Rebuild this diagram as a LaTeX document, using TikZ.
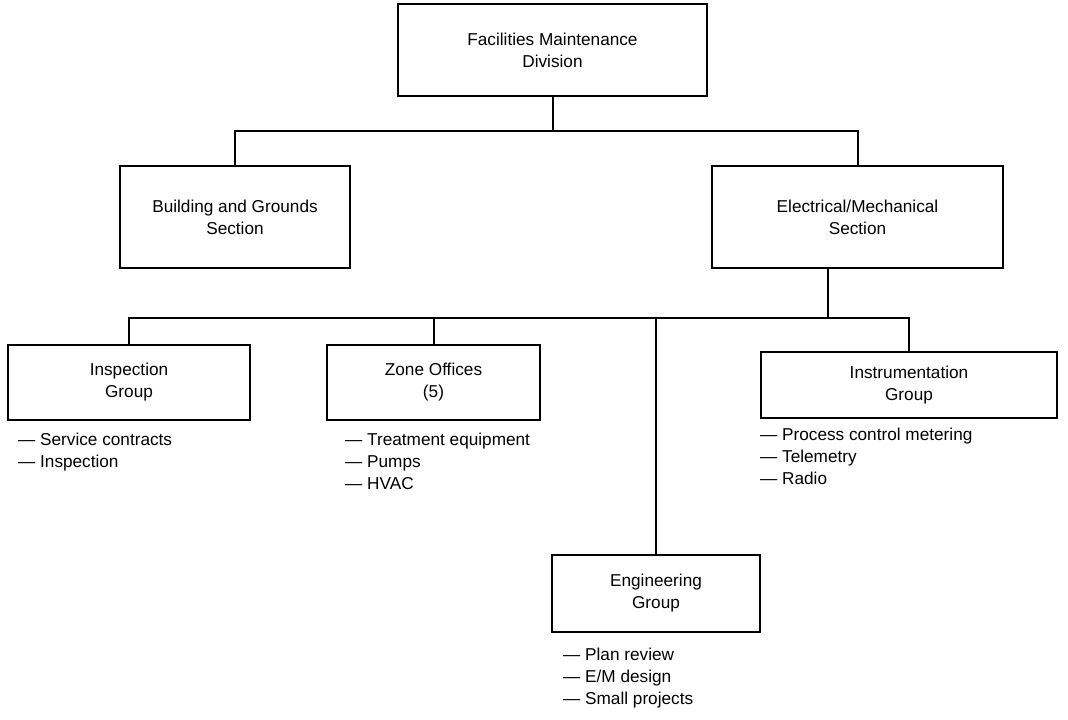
\documentclass[tikz,border=0pt]{standalone}
\usepackage{fontspec}
\setmainfont{Liberation Sans}
\begin{document}
\begin{tikzpicture}[x=1pt,y=-1pt,
  orgbox/.style={draw, line width=1.3pt, align=center, inner sep=0pt,
    font=\fontsize{17.2}{22}\selectfont},
  conn/.style={line width=2pt},
  duties/.style={anchor=north west, align=left, inner sep=0pt,
    font=\fontsize{17.2}{21.7}\selectfont}]
\useasboundingbox (0,0) rectangle (1068,720);

% division and sections
\node[orgbox, minimum width=309, minimum height=92] (fmd) at (552.5,50) {Facilities Maintenance\\Division};
\node[orgbox, minimum width=230, minimum height=102] (bgs) at (235,217) {Building and Grounds\\Section};
\node[orgbox, minimum width=291, minimum height=102] (ems) at (857.5,217) {Electrical/Mechanical\\Section};

% groups
\node[orgbox, minimum width=242, minimum height=75] (insp) at (129,382.5) {Inspection\\Group};
\node[orgbox, minimum width=213, minimum height=75] (zone) at (433.5,382.5) {Zone Offices\\(5)};
\node[orgbox, minimum width=296, minimum height=66] (instr) at (909,385) {Instrumentation\\Group};
\node[orgbox, minimum width=208, minimum height=77] (eng) at (656,593.5) {Engineering\\Group};

% duty lists
\node[duties] (inspl) at (18,433) {— Service contracts\\— Inspection};
\node[duties] (zonel) at (345,433) {— Treatment equipment\\— Pumps\\— HVAC};
\node[duties] (instrl) at (760,428) {— Process control metering\\— Telemetry\\— Radio};
\node[duties] (engl) at (563,648) {— Plan review\\— E/M design\\— Small projects};

% upper connectors
\coordinate (topbus) at (0,131);
\draw[conn] (fmd.south) -- (fmd.south |- topbus);
\draw[conn] (bgs.north) -- (bgs.north |- topbus) -| (ems.north);

% lower connectors
\coordinate (lowbus) at (0,318);
\coordinate (etap) at (828,268);
\draw[conn] (etap) -- (etap |- lowbus);
\draw[conn] (insp.north) -- (insp.north |- lowbus) -| (instr.north);
\draw[conn] (zone.north) -- (zone.north |- lowbus);
\draw[conn] (eng.north) -- (eng.north |- lowbus);
\end{tikzpicture}
\end{document}
